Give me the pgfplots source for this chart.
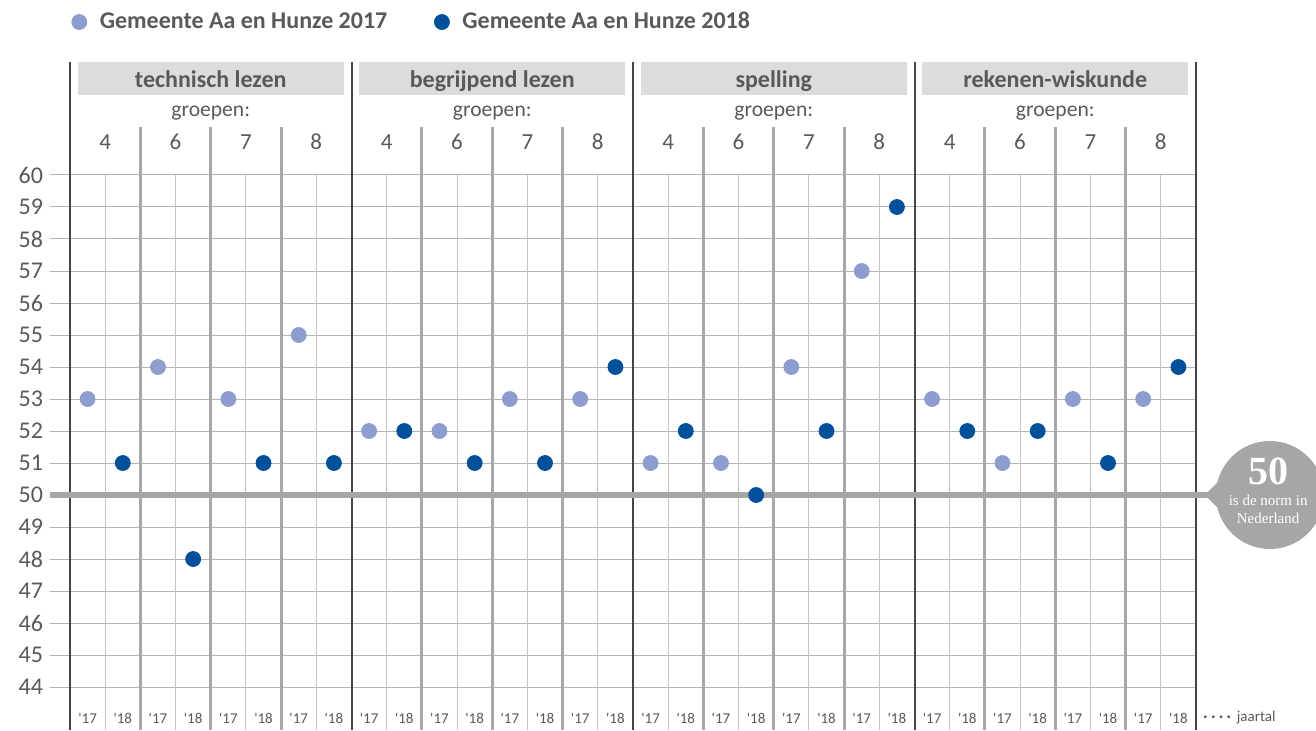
\documentclass[border=0pt]{standalone}
\usepackage{pgfplots}
\pgfplotsset{compat=1.18}
\usepackage{fontspec}
\setmainfont{Carlito}
\newfontfamily\serifbadge{Liberation Serif}
\definecolor{txt}{HTML}{595959}
\definecolor{light}{HTML}{8E9DD0}
\definecolor{dark}{HTML}{00509B}
\definecolor{hdr}{HTML}{DCDCDE}
\definecolor{norm}{HTML}{A6A6A6}
\definecolor{grp}{HTML}{A8A8A8}
\definecolor{yr}{HTML}{C4C4C4}
\definecolor{subj}{HTML}{454545}
\definecolor{gridc}{HTML}{B4B4B4}
\begin{document}
\begin{tikzpicture}
\begin{axis}[
  x=17.59375pt, y=16pt,
  xmin=0, xmax=32, ymin=42.65625, ymax=63.53125,
  clip=false,
  axis x line=none,
  axis y line*=left,
  y axis line style={draw=none},
  ytick={44,...,60},
  tick align=outside,
  major tick length=10pt,
  ytick style={color=gridc, line width=0.5pt},
  ymajorgrids,
  grid style={color=gridc, line width=0.5pt},
  /pgf/number format/assume math mode=true,
  yticklabel style={font=\fontsize{12}{14}\selectfont, text=txt},
  legend columns=2,
  legend style={at={(axis cs:-0.13,64.78)}, anchor=west, draw=none, fill=none,
    font=\fontsize{12}{14}\bfseries\selectfont, text=txt,
    /tikz/every odd column/.append style={column sep=4.5pt},
    /tikz/every even column/.append style={column sep=21.5pt}},
]
% year dividers
\pgfplotsinvokeforeach{1,3,...,31}{
  \draw[yr, line width=0.5pt] (axis cs:#1,42.65625) -- (axis cs:#1,60);
}
% group dividers
\pgfplotsinvokeforeach{0,8,16,24}{
  \draw[grp, line width=1.5pt] (axis cs:#1+2,42.65625) -- (axis cs:#1+2,61.5);
  \draw[grp, line width=1.5pt] (axis cs:#1+4,42.65625) -- (axis cs:#1+4,61.5);
  \draw[grp, line width=1.5pt] (axis cs:#1+6,42.65625) -- (axis cs:#1+6,61.5);
  \fill[hdr] (axis cs:#1+0.227,62.5) rectangle (axis cs:#1+7.773,63.53125);
  \node[font=\fontsize{10.8}{12}\selectfont, text=txt] at (axis cs:#1+4,61.98) {\strut groepen:};
  \node[font=\fontsize{11.5}{12}\selectfont, text=txt] at (axis cs:#1+1,61.03) {4};
  \node[font=\fontsize{11.5}{12}\selectfont, text=txt] at (axis cs:#1+3,61.03) {6};
  \node[font=\fontsize{11.5}{12}\selectfont, text=txt] at (axis cs:#1+5,61.03) {7};
  \node[font=\fontsize{11.5}{12}\selectfont, text=txt] at (axis cs:#1+7,61.03) {8};
}
% year labels
\pgfplotsinvokeforeach{0,2,...,30}{
  \node[font=\fontsize{7.5}{9}\selectfont, text=txt] at (axis cs:#1+0.5,43.03) {\textquotesingle17};
  \node[font=\fontsize{7.5}{9}\selectfont, text=txt] at (axis cs:#1+1.5,43.03) {\textquotesingle18};
}
% subject dividers
\pgfplotsinvokeforeach{0,8,16,24,32}{
  \draw[subj, line width=1pt] (axis cs:#1,42.65625) -- (axis cs:#1,63.53125);
}
% subject headers
\node[font=\fontsize{12}{14}\bfseries\selectfont, text=txt] at (axis cs:4,62.92) {\strut technisch lezen};
\node[font=\fontsize{12}{14}\bfseries\selectfont, text=txt] at (axis cs:12,62.92) {\strut begrijpend lezen};
\node[font=\fontsize{12}{14}\bfseries\selectfont, text=txt] at (axis cs:20,62.92) {\strut spelling};
\node[font=\fontsize{12}{14}\bfseries\selectfont, text=txt] at (axis cs:28,62.92) {\strut rekenen-wiskunde};
% jaartal
\node[anchor=west, font=\fontsize{7.5}{9}\selectfont, text=txt, inner sep=0pt] at (axis cs:32.2,43.03) {\textbf{·\hspace{1.9pt}·\hspace{1.9pt}·\hspace{1.9pt}·}\hspace{3pt}jaartal};
% norm line and badge
\draw[norm, line width=3pt] (axis cs:-0.568,50) -- (axis cs:33.5,50);
\fill[norm] (axis cs:34.1,50) circle[radius=27pt];
\fill[norm] (axis cs:32.25,50) -- ([shift={(165:26.5pt)}]axis cs:34.1,50) -- ([shift={(195:26.5pt)}]axis cs:34.1,50) -- cycle;
\node[text=white, font=\serifbadge\fontsize{20}{21}\bfseries\selectfont] at (axis cs:34.05,50.75) {50};
\node[text=white, font=\serifbadge\fontsize{7.5}{8.7}\selectfont, align=center] at (axis cs:34.05,49.55) {is de norm in\\Nederland};
% bounding box corners
\coordinate (bbA) at (axis cs:-1.98934,42.65625);
\coordinate (bbB) at (axis cs:35.4103,65.46875);
% data
\addplot[only marks, mark=*, mark size=3.75pt, color=light] coordinates {
(0.5,53)(2.5,54)(4.5,53)(6.5,55)(8.5,52)(10.5,52)(12.5,53)(14.5,53)
(16.5,51)(18.5,51)(20.5,54)(22.5,57)(24.5,53)(26.5,51)(28.5,53)(30.5,53)};
\addlegendentry{Gemeente Aa en Hunze 2017}
\addplot[only marks, mark=*, mark size=3.75pt, color=dark] coordinates {
(1.5,51)(3.5,48)(5.5,51)(7.5,51)(9.5,52)(11.5,51)(13.5,51)(15.5,54)
(17.5,52)(19.5,50)(21.5,52)(23.5,59)(25.5,52)(27.5,52)(29.5,51)(31.5,54)};
\addlegendentry{Gemeente Aa en Hunze 2018}
\end{axis}
\pgfresetboundingbox
\useasboundingbox (bbA) rectangle (bbB);
\end{tikzpicture}
\end{document}
